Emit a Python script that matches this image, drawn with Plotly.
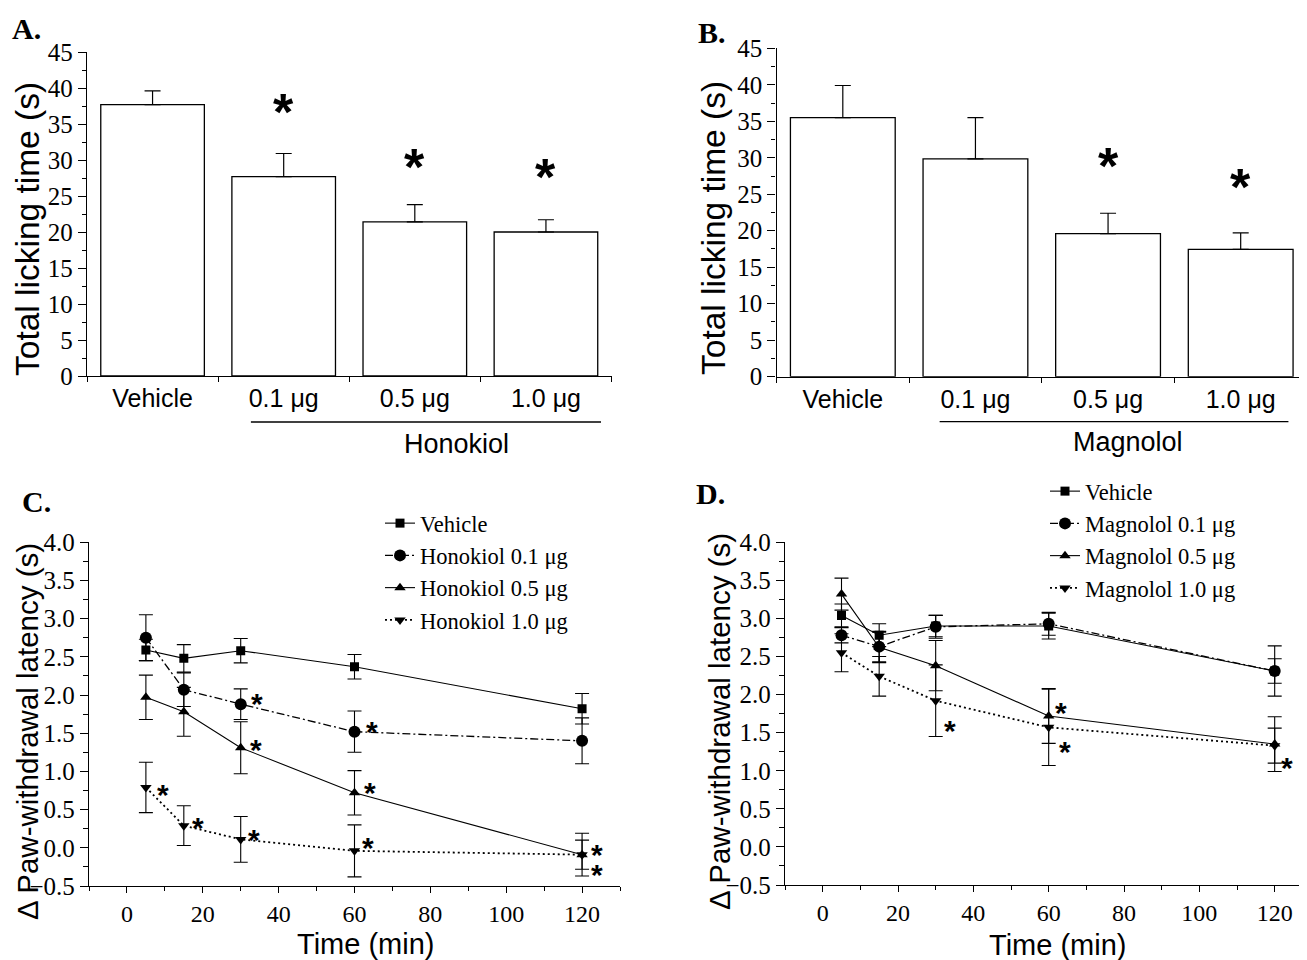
import plotly.graph_objects as go

# ---------------- data ----------------
bar_categories = ["Vehicle", "0.1 μg", "0.5 μg", "1.0 μg"]

honokiol_lick_mean = [37.7, 27.7, 21.4, 20.0]
honokiol_lick_sem = [1.9, 3.2, 2.4, 1.7]
honokiol_star_cat = [1, 2, 3]
honokiol_star_y = [37.6, 30.0, 28.6]

magnolol_lick_mean = [35.5, 29.85, 19.6, 17.45]
magnolol_lick_sem = [4.4, 5.65, 2.8, 2.25]
magnolol_star_cat = [2, 3]
magnolol_star_y = [29.8, 26.9]

time_min = [5, 15, 30, 60, 120]

c_names = ["Vehicle", "Honokiol 0.1 μg", "Honokiol 0.5 μg", "Honokiol 1.0 μg"]
c_vehicle = [2.59, 2.48, 2.58, 2.37, 1.82]
c_vehicle_err = [0.14, 0.18, 0.16, 0.16, 0.20]
c_h01 = [2.75, 2.07, 1.88, 1.52, 1.40]
c_h01_err = [0.30, 0.22, 0.20, 0.27, 0.30]
c_h05 = [1.97, 1.78, 1.31, 0.72, -0.09]
c_h05_err = [0.29, 0.32, 0.34, 0.29, 0.28]
c_h10 = [0.79, 0.29, 0.11, -0.04, -0.09]
c_h10_err = [0.33, 0.26, 0.30, 0.34, 0.19]
c_star_x = [34.3, 64.6, 34.0, 64.2, 9.4, 18.8, 33.5, 63.6, 124, 124]
c_star_y = [1.935, 1.58, 1.34, 0.77, 0.75, 0.32, 0.165, 0.05, -0.04, -0.30]

d_names = ["Vehicle", "Magnolol 0.1 μg", "Magnolol 0.5 μg", "Magnolol 1.0 μg"]
d_vehicle = [3.04, 2.78, 2.90, 2.90, 2.31]
d_vehicle_err = [0.15, 0.15, 0.14, 0.17, 0.16]
d_m01 = [2.78, 2.63, 2.89, 2.93, 2.31]
d_m01_err = [0.10, 0.20, 0.15, 0.15, 0.33]
d_m05 = [3.32, 2.62, 2.38, 1.72, 1.35]
d_m05_err = [0.21, 0.20, 0.33, 0.36, 0.36]
d_m10 = [2.55, 2.24, 1.92, 1.57, 1.33]
d_m10_err = [0.25, 0.26, 0.47, 0.50, 0.23]
d_star_x = [33.7, 63.4, 64.3, 123.2]
d_star_y = [1.58, 1.82, 1.31, 1.10]

# ---------------- styling ----------------
W, H = 1307, 960
OFF = 8  # page body margin of the html page
SERIF = "Liberation Serif"
SANS = "Liberation Sans"


def px(x):
    return (x - OFF) / W


def py(y):
    return 1 - (y - OFF) / H


fig = go.Figure()

# Bars
for mean, sem, xa, ya in [(honokiol_lick_mean, honokiol_lick_sem, "x", "y"),
                           (magnolol_lick_mean, magnolol_lick_sem, "x2", "y2")]:
    fig.add_trace(go.Bar(
        x=bar_categories, y=mean, xaxis=xa, yaxis=ya, width=0.79,
        marker=dict(color="white", line=dict(color="black", width=1.3)),
        error_y=dict(type="data", array=sem, arrayminus=[0] * len(sem), symmetric=False,
                     color="black", thickness=1.2, width=8),
        showlegend=False,
    ))

series_styles = [
    dict(symbol="square", size=9, dash="solid", width=1.1),
    dict(symbol="circle", size=12, dash="8px,3px,2px,3px", width=1.3),
    dict(symbol="triangle-up", size=10, dash="solid", width=1.1),
    dict(symbol="triangle-down", size=10, dash="2px,3px", width=1.8),
]

c_series = [(c_vehicle, c_vehicle_err), (c_h01, c_h01_err), (c_h05, c_h05_err), (c_h10, c_h10_err)]
d_series = [(d_vehicle, d_vehicle_err), (d_m01, d_m01_err), (d_m05, d_m05_err), (d_m10, d_m10_err)]

for names, series, xa, ya, leg in [(c_names, c_series, "x3", "y3", "legend"),
                                   (d_names, d_series, "x4", "y4", "legend2")]:
    for name, (vals, errs), st in zip(names, series, series_styles):
        fig.add_trace(go.Scatter(
            x=time_min, y=vals, xaxis=xa, yaxis=ya, name=name, legend=leg,
            mode="lines+markers",
            line=dict(color="black", width=st["width"], dash=st["dash"]),
            marker=dict(symbol=st["symbol"], size=st["size"], color="black"),
            error_y=dict(type="data", array=errs, color="black", thickness=1.1, width=7),
        ))

# ---------------- axes ----------------
axis_common = dict(showline=True, linecolor="black", linewidth=1.4, showgrid=False,
                   zeroline=False, ticks="outside", tickcolor="black", tickwidth=1.2,
                   automargin=False)
serif_ticks = dict(family=SERIF, size=25, color="black")
serif_ticks_x = dict(family=SERIF, size=24, color="black")
sans_ticks = dict(family=SANS, size=25, color="black")

fig.update_layout(
    width=W, height=H, margin=dict(l=0, r=0, t=0, b=0, autoexpand=False),
    paper_bgcolor="white", plot_bgcolor="white",
    xaxis=dict(**axis_common, domain=[px(87), px(611.5)], anchor="y", type="category",
               range=[-0.5, 3.5], tickson="boundaries", ticklen=5, tickfont=sans_ticks),
    yaxis=dict(**axis_common, domain=[py(376), py(52)], anchor="x", range=[0, 45],
               dtick=5, ticklen=8, tickfont=serif_ticks,
               minor=dict(dtick=2.5, ticklen=4, ticks="outside", tickcolor="black")),
    xaxis2=dict(**axis_common, domain=[px(776.5), 1.0], anchor="y2", type="category",
                range=[-0.5, 3.5 + OFF / 132.6], tickson="boundaries", ticklen=5,
                tickfont=sans_ticks),
    yaxis2=dict(**axis_common, domain=[py(376.7), py(48.3)], anchor="x2", range=[0, 45],
                dtick=5, ticklen=8, tickfont=serif_ticks,
                minor=dict(dtick=2.5, ticklen=4, ticks="outside", tickcolor="black")),
    xaxis3=dict(**axis_common, domain=[px(89), px(620)], anchor="y3", range=[-10, 130],
                tick0=0, dtick=20, ticklen=6, tickfont=serif_ticks_x,
                minor=dict(dtick=10, ticklen=4, ticks="outside", tickcolor="black")),
    yaxis3=dict(**axis_common, domain=[py(886), py(542.2)], anchor="x3", range=[-0.5, 4.0],
                dtick=0.5, tickformat=".1f", ticklen=8, tickfont=serif_ticks,
                minor=dict(dtick=0.25, ticklen=5, ticks="outside", tickcolor="black")),
    xaxis4=dict(**axis_common, domain=[px(785), 1.0], anchor="y4", range=[-10, 130.7],
                tick0=0, dtick=20, ticklen=6, tickfont=serif_ticks_x,
                minor=dict(dtick=10, ticklen=4, ticks="outside", tickcolor="black")),
    yaxis4=dict(**axis_common, domain=[py(885), py(542.3)], anchor="x4", range=[-0.5, 4.0],
                dtick=0.5, tickformat=".1f", ticklen=8, tickfont=serif_ticks,
                minor=dict(dtick=0.25, ticklen=5, ticks="outside", tickcolor="black")),
    legend=dict(x=px(380), y=py(502), xanchor="left", yanchor="top",
                font=dict(family=SERIF, size=22.5, color="black"), bgcolor="rgba(0,0,0,0)",
                tracegroupgap=0, itemwidth=30),
    legend2=dict(x=px(1045), y=py(470), xanchor="left", yanchor="top",
                 font=dict(family=SERIF, size=22.5, color="black"), bgcolor="rgba(0,0,0,0)",
                 tracegroupgap=0, itemwidth=30),
)

annotations = []


def add_text(text, x, y, size, family, angle=0, xref="paper", yref="paper", yshift=0, bold=False):
    annotations.append(dict(
        text=("<b>%s</b>" % text) if bold else text, x=x, y=y, xref=xref, yref=yref,
        showarrow=False, textangle=angle, xanchor="center", yanchor="middle", yshift=yshift,
        font=dict(family=family, size=size, color="black"),
    ))


# panel letters
add_text("A.", px(26), py(29), 30, SERIF, bold=True)
add_text("B.", px(712), py(32), 30, SERIF, bold=True)
add_text("C.", px(36), py(502), 30, SERIF, bold=True)
add_text("D.", px(710), py(493), 30, SERIF, bold=True)

# axis titles
add_text("Total licking time (s)", px(27), py(229), 33.5, SANS, angle=-90)
add_text("Total licking time (s)", px(714), py(228), 33.5, SANS, angle=-90)
add_text("Δ Paw-withdrawal latency (s)", px(27), py(732), 29.5, SANS, angle=-90)
add_text("Δ Paw-withdrawal latency (s)", px(719), py(722), 29.5, SANS, angle=-90)
add_text("Time (min)", px(366), py(944), 29, SANS)
add_text("Time (min)", px(1057), py(945), 29, SANS)

# group labels
add_text("Honokiol", 2.32, py(444), 27, SANS, xref="x")
add_text("Magnolol", 2.15, py(442), 27, SANS, xref="x2")

# significance stars
for c, v in zip(honokiol_star_cat, honokiol_star_y):
    add_text("*", c, v, 52, SANS, xref="x", yref="y", yshift=-7, bold=True)
for c, v in zip(magnolol_star_cat, magnolol_star_y):
    add_text("*", c, v, 52, SANS, xref="x2", yref="y2", yshift=-7, bold=True)
for t, v in zip(c_star_x, c_star_y):
    add_text("*", t, v, 30, SANS, xref="x3", yref="y3", yshift=-4, bold=True)
for t, v in zip(d_star_x, d_star_y):
    add_text("*", t, v, 30, SANS, xref="x4", yref="y4", yshift=-4, bold=True)

fig.update_layout(annotations=annotations)

# underline below the dose groups
fig.update_layout(shapes=[
    dict(type="line", xref="x", yref="paper", x0=0.75, x1=3.42, y0=py(422), y1=py(422),
         line=dict(color="black", width=1.3)),
    dict(type="line", xref="x2", yref="paper", x0=0.73, x1=3.36, y0=py(421.7), y1=py(421.7),
         line=dict(color="black", width=1.3)),
])

fig.write_html("out.html")
